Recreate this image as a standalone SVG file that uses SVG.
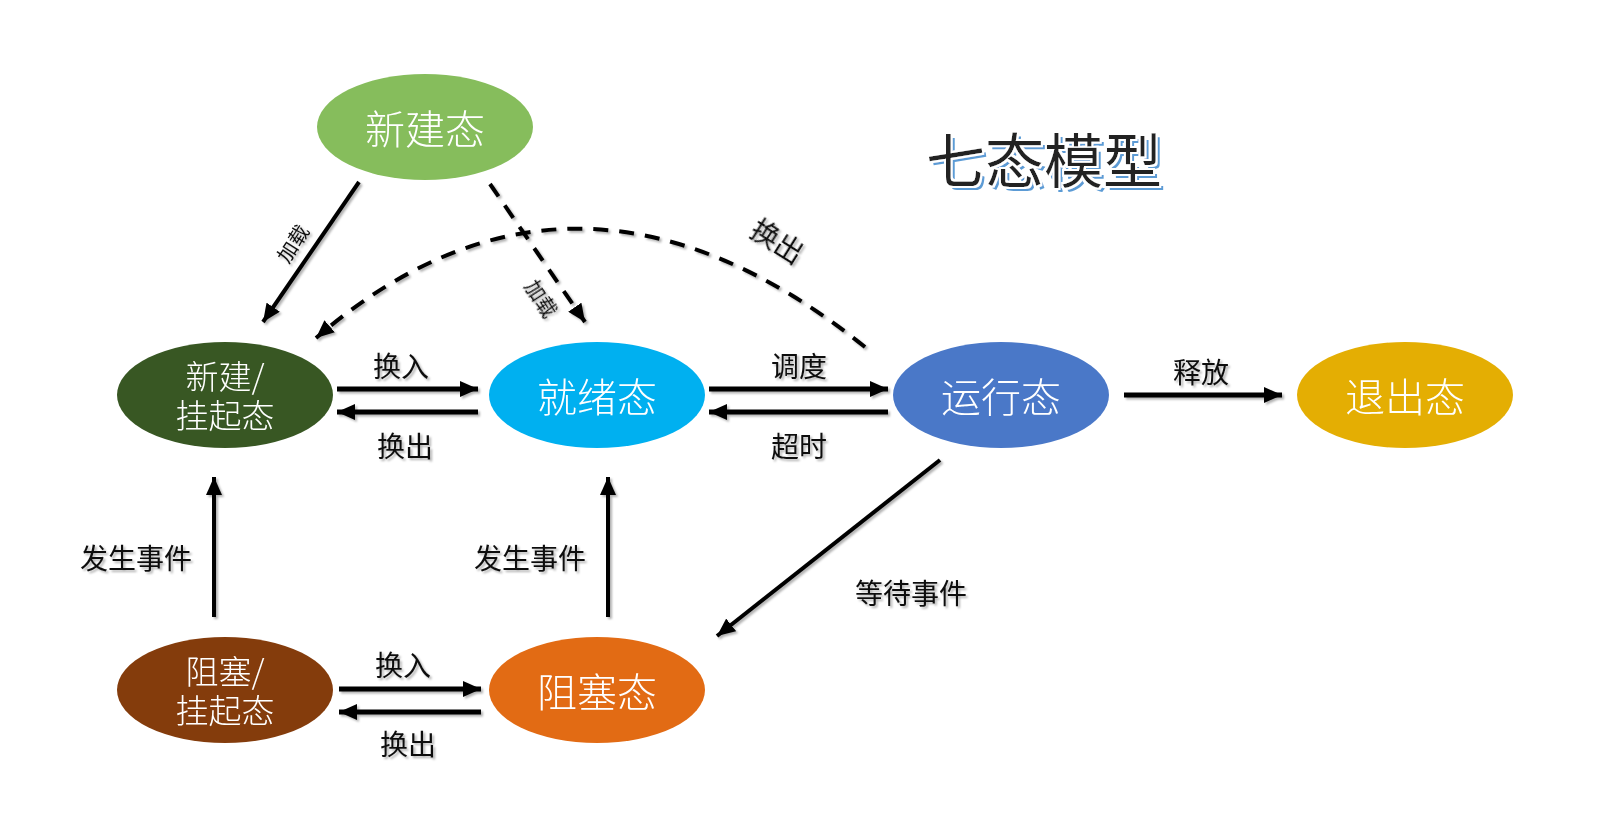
<svg xmlns="http://www.w3.org/2000/svg" width="1600" height="832" viewBox="0 0 1600 832">
<style>
.node-text{font-family:"Noto Sans CJK SC","Microsoft YaHei",sans-serif;fill:#fff;text-anchor:middle;dominant-baseline:central;font-weight:300}
.lbl{font-family:"Noto Sans CJK SC",sans-serif;fill:#111;font-size:28px;text-anchor:middle;dominant-baseline:central}
.small{font-size:20px}
.solid{stroke:#000;stroke-width:4;fill:none}
.thick{stroke:#000;stroke-width:5;fill:none}
.dash{stroke:#000;stroke-width:4;fill:none;stroke-dasharray:15 11}
</style>
<defs>
<marker id="ah" markerUnits="userSpaceOnUse" markerWidth="20" markerHeight="16" refX="18" refY="8" orient="auto">
<path d="M0,0 L18,8 L0,16 Z" fill="#000"/>
</marker>
<filter id="sh" x="-20%" y="-20%" width="140%" height="140%">
<feDropShadow dx="2" dy="2" stdDeviation="1.2" flood-color="#000" flood-opacity="0.3"/>
</filter>
<filter id="tsh" x="-10%" y="-20%" width="130%" height="150%">
<feMorphology in="SourceAlpha" operator="dilate" radius="1.5" result="outl"/>
<feFlood flood-color="#fff" result="white"/>
<feComposite in="white" in2="outl" operator="in" result="whiteOut"/>
<feOffset in="SourceAlpha" dx="4" dy="4" result="off"/>
<feFlood flood-color="#5B9BD5" result="blue"/>
<feComposite in="blue" in2="off" operator="in" result="blueSh"/>
<feMerge>
<feMergeNode in="blueSh"/>
<feMergeNode in="whiteOut"/>
<feMergeNode in="SourceGraphic"/>
</feMerge>
</filter>
</defs>
<rect width="1600" height="832" fill="#fff"/>

<g id="title">
<text x="1044" y="157" font-family="Noto Sans CJK SC,sans-serif" font-size="59" text-anchor="middle" dominant-baseline="central" fill="#222" filter="url(#tsh)">七态模型</text>
</g>

<g id="connectors" filter="url(#sh)">
<line class="solid" x1="359" y1="182" x2="263" y2="322" marker-end="url(#ah)"/>
<line class="dash" x1="490" y1="184" x2="585" y2="322" marker-end="url(#ah)"/>
<path class="dash" d="M865 347 Q575 115 316 338" marker-end="url(#ah)"/>
<line class="thick" x1="337" y1="389" x2="478" y2="389" marker-end="url(#ah)"/>
<line class="thick" x1="478" y1="412" x2="337" y2="412" marker-end="url(#ah)"/>
<line class="thick" x1="709" y1="389" x2="888" y2="389" marker-end="url(#ah)"/>
<line class="thick" x1="888" y1="412" x2="709" y2="412" marker-end="url(#ah)"/>
<line class="thick" x1="1124" y1="395" x2="1282" y2="395" marker-end="url(#ah)"/>
<line class="solid" x1="214" y1="617" x2="214" y2="477" marker-end="url(#ah)"/>
<line class="solid" x1="608" y1="617" x2="608" y2="477" marker-end="url(#ah)"/>
<line class="solid" x1="940" y1="460" x2="717" y2="636" marker-end="url(#ah)"/>
<line class="thick" x1="339" y1="689" x2="481" y2="689" marker-end="url(#ah)"/>
<line class="thick" x1="481" y1="712" x2="339" y2="712" marker-end="url(#ah)"/>
</g>

<g id="labels" filter="url(#sh)">
<text class="lbl small" transform="translate(292,243) rotate(-57)">加载</text>
<text class="lbl small" transform="translate(542,298) rotate(57)">加载</text>
<text class="lbl" font-size="29" transform="translate(778,240) rotate(32)">换出</text>
<text class="lbl" x="401" y="365">换入</text>
<text class="lbl" x="405" y="445">换出</text>
<text class="lbl" x="799" y="365">调度</text>
<text class="lbl" x="799" y="445">超时</text>
<text class="lbl" x="1201" y="371">释放</text>
<text class="lbl" x="136" y="557">发生事件</text>
<text class="lbl" x="530" y="557">发生事件</text>
<text class="lbl" x="911" y="592">等待事件</text>
<text class="lbl" x="403" y="664">换入</text>
<text class="lbl" x="408" y="743">换出</text>
</g>

<g id="node-new">
<ellipse cx="425" cy="127" rx="108" ry="53" fill="#86BD5C"/>
<text class="node-text" x="425" y="127" font-size="40">新建态</text>
</g>
<g id="node-new-suspend">
<ellipse cx="225" cy="395" rx="108" ry="53" fill="#385723"/>
<text class="node-text" font-size="33"><tspan x="225" y="375">新建/</tspan><tspan x="225" y="414">挂起态</tspan></text>
</g>
<g id="node-ready">
<ellipse cx="597" cy="395" rx="108" ry="53" fill="#00B0F0"/>
<text class="node-text" x="597" y="395" font-size="40">就绪态</text>
</g>
<g id="node-running">
<ellipse cx="1001" cy="395" rx="108" ry="53" fill="#4A78C8"/>
<text class="node-text" x="1001" y="395" font-size="40">运行态</text>
</g>
<g id="node-exit">
<ellipse cx="1405" cy="395" rx="108" ry="53" fill="#E4AE03"/>
<text class="node-text" x="1405" y="395" font-size="40">退出态</text>
</g>
<g id="node-blocked-suspend">
<ellipse cx="225" cy="690" rx="108" ry="53" fill="#843C0C"/>
<text class="node-text" font-size="33"><tspan x="225" y="670">阻塞/</tspan><tspan x="225" y="709">挂起态</tspan></text>
</g>
<g id="node-blocked">
<ellipse cx="597" cy="690" rx="108" ry="53" fill="#E26B14"/>
<text class="node-text" x="597" y="690" font-size="40">阻塞态</text>
</g>
</svg>
